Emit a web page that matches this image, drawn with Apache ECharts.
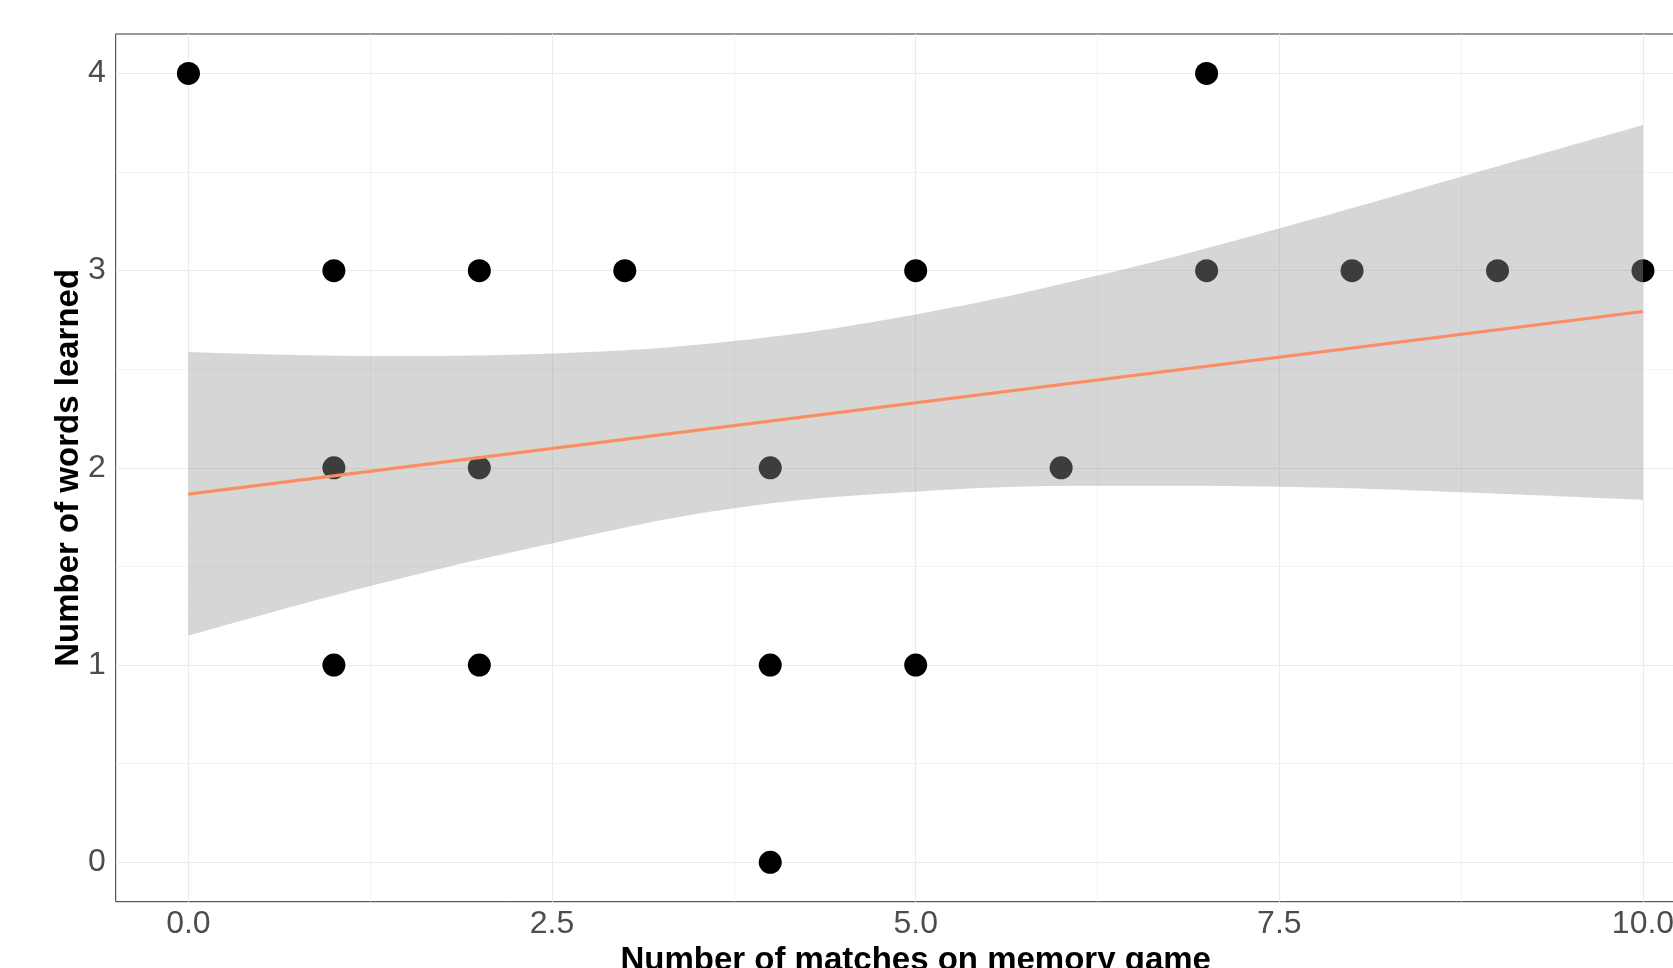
<!DOCTYPE html>
<html>
<head>
<meta charset="utf-8">
<script src="https://cdn.jsdelivr.net/npm/echarts@6/dist/echarts.min.js"></script>
<style>
  html, body { margin: 0; padding: 0; background: #ffffff; }
  #chart { width: 1673px; height: 968px; }
</style>
</head>
<body>
<div id="chart"></div>
<script>
// ---- data ----
const pointsX = [0, 1, 1, 1, 2, 2, 2, 3, 4, 4, 4, 5, 5, 6, 7, 7, 8, 9, 10];
const pointsY = [4, 3, 2, 1, 3, 2, 1, 3, 2, 1, 0, 3, 1, 2, 4, 3, 3, 3, 3];

// fitted linear trend (read at ends)
const fitX = [0, 10];
const fitY = [1.867, 2.793];

// confidence band read at sample positions
const bandX     = [0,     1.25,  2.5,   3.75,  5,     6.25,  7.5,   8.75,  10];
const bandLower = [1.149, 1.401, 1.617, 1.795, 1.879, 1.909, 1.904, 1.876, 1.837];
const bandUpper = [2.587, 2.567, 2.580, 2.643, 2.778, 2.975, 3.214, 3.476, 3.738];

const xTicks = [0, 2.5, 5, 7.5, 10];
const xTickLabels = ['0.0', '2.5', '5.0', '7.5', '10.0'];
const xMinor = [1.25, 3.75, 6.25, 8.75];
const yTicks = [0, 1, 2, 3, 4];
const yTickLabels = ['0', '1', '2', '3', '4'];
const yMinor = [0.5, 1.5, 2.5, 3.5];

const xTitle = 'Number of matches on memory game';
const yTitle = 'Number of words learned';

// ---- build options ----
const FONT = '"Liberation Sans", Arial, Helvetica, sans-serif';
const gridMajor = { color: '#ebebeb', width: 1.1, type: 'solid' };
const gridMinor = { color: '#ebebeb', width: 0.6, type: 'solid' };

const gridLines = []
  .concat(xMinor.map(v => ({ xAxis: v, lineStyle: gridMinor })))
  .concat(yMinor.map(v => ({ yAxis: v, lineStyle: gridMinor })))
  .concat(xTicks.map(v => ({ xAxis: v, lineStyle: gridMajor })))
  .concat(yTicks.map(v => ({ yAxis: v, lineStyle: gridMajor })));

const scatterData = pointsX.map((x, i) => [x, pointsY[i]]);
// value first, x second -> stacking happens on the y value
const lowerData = bandX.map((x, i) => [bandLower[i], x]);
const spanData = bandX.map((x, i) => [bandUpper[i] - bandLower[i], x]);
const fitData = fitX.map((x, i) => [x, fitY[i]]);

const chart = echarts.init(document.getElementById('chart'), null, { renderer: 'canvas' });
chart.setOption({
  animation: false,
  backgroundColor: '#ffffff',
  grid: {
    left: 115.7, top: 34, width: 1600, height: 867.7,
    outerBoundsMode: 'none', containLabel: false,
    show: true, borderColor: '#333333', borderWidth: 1, backgroundColor: 'transparent'
  },
  xAxis: {
    type: 'value', min: -0.5, max: 10.5,
    name: xTitle, nameLocation: 'middle', nameGap: 43, nameMoveOverlap: false,
    nameTextStyle: { fontFamily: FONT, fontSize: 33, fontWeight: 'bold', color: '#000000', verticalAlign: 'top' },
    axisLine: { show: false },
    splitLine: { show: false },
    axisTick: { show: true, customValues: xTicks, length: 5, lineStyle: { color: '#333333', width: 1 } },
    axisLabel: {
      customValues: xTicks, margin: 6,
      fontFamily: FONT, fontSize: 32, color: '#4d4d4d',
      formatter: v => { const i = xTicks.indexOf(v); return i >= 0 ? xTickLabels[i] : ''; }
    }
  },
  yAxis: {
    type: 'value', min: -0.2, max: 4.2,
    name: yTitle, nameLocation: 'middle', nameGap: 30, nameMoveOverlap: false,
    nameTextStyle: { fontFamily: FONT, fontSize: 33, fontWeight: 'bold', color: '#000000' },
    axisLine: { show: false },
    splitLine: { show: false },
    axisTick: { show: true, customValues: yTicks, length: 5, lineStyle: { color: '#333333', width: 1 } },
    axisLabel: {
      customValues: yTicks, margin: 10,
      fontFamily: FONT, fontSize: 32, color: '#4d4d4d',
      formatter: v => { const i = yTicks.indexOf(v); return i >= 0 ? yTickLabels[i] : ''; }
    }
  },
  series: [
    {
      type: 'scatter',
      data: scatterData,
      symbol: 'circle',
      symbolSize: 23,
      itemStyle: { color: '#000000', opacity: 1 },
      silent: true,
      z: 2,
      markLine: {
        silent: true, z: 1, symbol: ['none', 'none'],
        label: { show: false }, emphasis: { disabled: true },
        animation: false,
        data: gridLines
      }
    },
    {
      type: 'line', data: lowerData, stack: 'ci', smooth: 0.4,
      encode: { x: 1, y: 0 },
      showSymbol: false, symbol: 'none', silent: true,
      lineStyle: { opacity: 0, width: 0 }, z: 3
    },
    {
      type: 'line', data: spanData, stack: 'ci', smooth: 0.4,
      encode: { x: 1, y: 0 },
      showSymbol: false, symbol: 'none', silent: true,
      lineStyle: { opacity: 0, width: 0 },
      areaStyle: { color: 'rgba(153,153,153,0.4)', opacity: 1 }, z: 3
    },
    {
      type: 'line', data: fitData,
      showSymbol: false, symbol: 'none', silent: true,
      lineStyle: { color: '#FC8D62', width: 3.2 }, z: 4
    }
  ]
});
</script>
</body>
</html>
